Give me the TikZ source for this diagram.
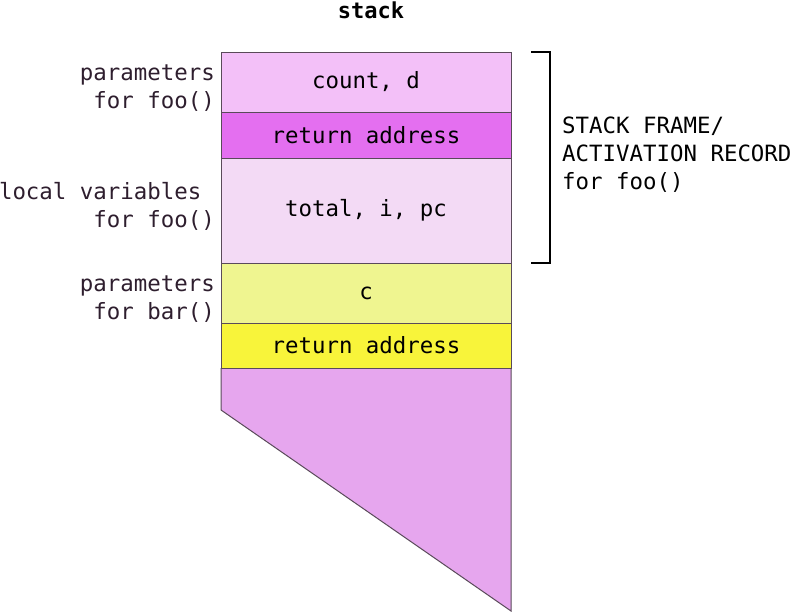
\documentclass[tikz,border=0pt]{standalone}
\usepackage{xcolor}
\usepackage{fontspec}
\usepackage{tikz}
\newfontfamily\stackfont{DejaVu Sans Mono}
\definecolor{parampink}{HTML}{F3C0F8}
\definecolor{retmagenta}{HTML}{E46FF0}
\definecolor{localpink}{HTML}{F3DAF5}
\definecolor{paramlime}{HTML}{EFF590}
\definecolor{retyellow}{HTML}{F8F43A}
\definecolor{freeviolet}{HTML}{E6A6EE}
\definecolor{edgegrey}{HTML}{5A4A5A}
\definecolor{labelpurple}{HTML}{2E1E2E}

\begin{document}
\begin{tikzpicture}[x=1pt,y=-1pt,
    every node/.style={font=\stackfont\fontsize{22.4}{28}\selectfont},
    slot/.style={draw=edgegrey,line width=1pt,shape=rectangle,minimum width=290pt,outer sep=0pt,inner sep=0pt,text=black},
    sidenote/.style={text=labelpurple,inner sep=0pt,anchor=east,align=right}]
    \useasboundingbox (0,0) rectangle (791,613);

    \node[font=\stackfont\bfseries\fontsize{22}{26}\selectfont] (title) at (371,10) {stack};

    \fill[freeviolet] (221,368) -- (511,368) -- (511,611) -- (221,410) -- cycle;
    \draw[edgegrey,line width=1pt] (221,368) -- (221,410) -- (511,611) -- (511,368);

    \node[slot,fill=parampink,minimum height=60pt] (fooargs) at (366,82) {count, d};
    \node[slot,fill=retmagenta,minimum height=46pt] (fooret) at (366,135) {return address};
    \node[slot,fill=localpink,minimum height=105pt] (foolocals) at (366,210.5) {total, i, pc};
    \node[slot,fill=paramlime,minimum height=60pt] (barargs) at (366,293) {c};
    \node[slot,fill=retyellow,minimum height=45pt,draw=edgegrey] (barret) at (366,345.5) {return address};

    \node[sidenote] (fooargsnote) at (215,88) {parameters\\for foo()};
    \node[sidenote] (foolocalsnote) at (215,206) {local variables\hphantom{x}\\for foo()};
    \node[sidenote] (barargsnote) at (215,299) {parameters\\for bar()};

    \draw[line width=2pt] ([xshift=20pt]fooargs.north east) -- ([xshift=39pt]fooargs.north east)
        |- ([xshift=20pt]foolocals.south east);
    \node[anchor=west,align=left,inner sep=0pt] (framenote) at (562,155) {STACK FRAME/\\ACTIVATION RECORD\\for foo()};
\end{tikzpicture}
\end{document}
